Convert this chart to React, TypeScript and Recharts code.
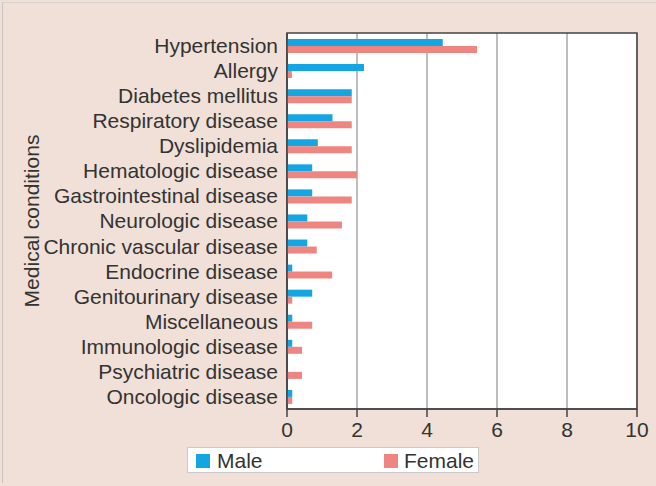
import React from 'react';
import {
  BarChart,
  Bar,
  XAxis,
  YAxis,
  CartesianGrid,
  Legend,
  ReferenceArea,
} from 'recharts';

const conditions = [
  'Hypertension',
  'Allergy',
  'Diabetes mellitus',
  'Respiratory disease',
  'Dyslipidemia',
  'Hematologic disease',
  'Gastrointestinal disease',
  'Neurologic disease',
  'Chronic vascular disease',
  'Endocrine disease',
  'Genitourinary disease',
  'Miscellaneous',
  'Immunologic disease',
  'Psychiatric disease',
  'Oncologic disease',
];

const maleValues = [4.45, 2.2, 1.85, 1.3, 0.88, 0.72, 0.72, 0.58, 0.58, 0.15, 0.72, 0.15, 0.15, 0, 0.15];
const femaleValues = [5.43, 0.14, 1.85, 1.85, 1.85, 2.0, 1.85, 1.57, 0.85, 1.29, 0.15, 0.72, 0.43, 0.43, 0.15];

const xTicks = [0, 2, 4, 6, 8, 10];

const MALE = '#14a5e3';
const FEMALE = '#ef8581';
const BG = '#f0e0d7';
const TEXT = '#333333';
const FONT = '"Liberation Sans", Arial, sans-serif';
const FS = 21;

const data = conditions.map((name, i) => ({
  name,
  male: maleValues[i],
  female: femaleValues[i],
}));

const LegendBox = () => (
  <div
    style={{
      width: 292,
      height: 26,
      boxSizing: 'border-box',
      background: '#fff',
      border: '1px solid #c9c9c9',
      position: 'relative',
      fontFamily: FONT,
      fontSize: FS,
      color: TEXT,
    }}
  >
    <div style={{ position: 'absolute', left: 8, top: 0, display: 'flex', alignItems: 'center', height: 25 }}>
      <span style={{ width: 14, height: 14, background: MALE, display: 'inline-block', marginRight: 7 }} />
      <span>Male</span>
    </div>
    <div style={{ position: 'absolute', left: 196, top: 0, display: 'flex', alignItems: 'center', height: 25 }}>
      <span style={{ width: 14, height: 14, background: FEMALE, display: 'inline-block', marginRight: 6 }} />
      <span>Female</span>
    </div>
  </div>
);

const AxisTitle = (props: any) => {
  const vb = props.viewBox;
  const cy = vb.y + vb.height / 2;
  return (
    <text
      x={31}
      y={cy}
      transform={`rotate(-90, 31, ${cy})`}
      textAnchor="middle"
      dominantBaseline="central"
      fill={TEXT}
      fontSize={FS}
      fontFamily={FONT}
    >
      Medical conditions
    </text>
  );
};

export default function App() {
  return (
    <div style={{ position: 'absolute', left: 0, top: 0, width: 656, height: 486, background: BG }}>
      <div
        style={{
          position: 'absolute',
          left: 2,
          top: 2,
          width: 654,
          height: 480,
          borderLeft: '1px solid #c8c4c2',
          borderTop: '1px solid #d8d2cf',
        }}
      />
      <div style={{ position: 'absolute', left: 0, top: 0 }}>
        <BarChart
          width={656}
          height={486}
          data={data}
          layout="vertical"
          margin={{ top: 33, right: 19, left: 0, bottom: 0 }}
          barGap={0}
          barSize={7}
        >
          <CartesianGrid horizontal={false} stroke="#bdbdbd" strokeWidth={2} fill="#ffffff" />
          <XAxis
            type="number"
            domain={[0, 10]}
            ticks={xTicks}
            interval={0}
            stroke="#444"
            strokeWidth={1.5}
            tickSize={8}
            tickMargin={5}
            height={77}
            tick={{ fill: TEXT, fontSize: FS, fontFamily: FONT }}
          />
          <YAxis
            type="category"
            dataKey="name"
            width={287}
            interval={0}
            stroke="#444"
            strokeWidth={1.5}
            tickLine={false}
            tickSize={0}
            tickMargin={9}
            tick={{ fill: TEXT, fontSize: FS, fontFamily: FONT }}
            label={{ content: AxisTitle }}
          />
          <ReferenceArea x1={0} x2={10} fill="none" stroke="#444" strokeWidth={1.5} />
          <Bar dataKey="male" name="Male" fill={MALE} isAnimationActive={false} />
          <Bar dataKey="female" name="Female" fill={FEMALE} isAnimationActive={false} />
          <Legend
            layout="horizontal"
            verticalAlign="middle"
            align="center"
            content={() => <LegendBox />}
            wrapperStyle={{ position: 'absolute', left: 187, top: 447, width: 292, height: 26 }}
          />
        </BarChart>
      </div>
    </div>
  );
}
